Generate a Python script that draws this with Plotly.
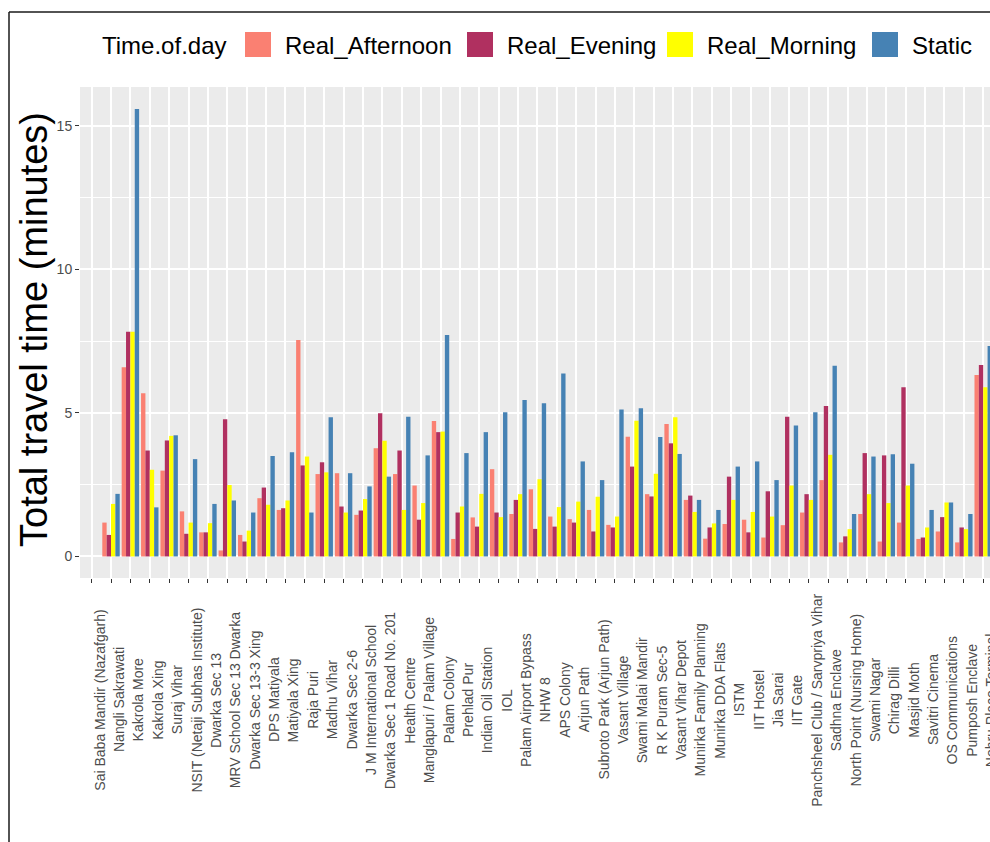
import plotly.graph_objects as go

categories = [
    "Sai Baba Mandir (Nazafgarh)", "Nangli Sakrawati", "Kakrola More", "Kakrola Xing",
    "Suraj Vihar", "NSIT (Netaji Subhas Institute)", "Dwarka Sec 13",
    "MRV School Sec 13 Dwarka", "Dwarka Sec 13-3 Xing", "DPS Matiyala", "Matiyala Xing",
    "Raja Puri", "Madhu Vihar", "Dwarka Sec 2-6", "J M International School",
    "Dwarka Sec 1 Road No. 201", "Health Centre", "Manglapuri / Palam Village",
    "Palam Colony", "Prehlad Pur", "Indian Oil Station", "IOL", "Palam Airport Bypass",
    "NHW 8", "APS Colony", "Arjun Path", "Subroto Park (Arjun Path)", "Vasant Village",
    "Swami Malai Mandir", "R K Puram Sec-5", "Vasant Vihar Depot",
    "Munirka Family Planning", "Munirka DDA Flats", "ISTM", "IIT Hostel", "Jia Sarai",
    "IIT Gate", "Panchsheel Club / Sarvpriya Vihar", "Sadhna Enclave",
    "North Point (Nursing Home)", "Swami Nagar", "Chirag Dilli", "Masjid Moth",
    "Savitri Cinema", "OS Communications", "Pumposh Enclave", "Nehru Place Terminal",
]

real_afternoon = [None, 1.18, 6.59, 5.68, 2.99, 1.57, 0.84, 0.21, 0.75, 2.03, 1.62,
                  7.54, 2.87, 2.90, 1.45, 3.77, 2.87, 2.47, 4.72, 0.61, 1.36, 3.04,
                  1.48, 2.34, 1.39, 1.30, 1.62, 1.10, 4.17, 2.17, 4.61, 1.97, 0.62,
                  1.13, 1.28, 0.66, 1.09, 1.53, 2.66, 0.49, 1.48, 0.52, 1.18, 0.61,
                  0.87, 0.49, 6.32]
real_evening = [None, 0.75, 7.83, 3.69, 4.04, 0.79, 0.84, 4.78, 0.52, 2.40, 1.68,
                3.17, 3.28, 1.74, 1.60, 4.99, 3.69, 1.28, 4.33, 1.53, 1.04, 1.53,
                1.97, 0.96, 1.04, 1.18, 0.87, 1.01, 3.13, 2.09, 3.94, 2.12, 1.01,
                2.78, 0.84, 2.27, 4.87, 2.17, 5.24, 0.70, 3.60, 3.52, 5.89, 0.66,
                1.37, 1.01, 6.67]
real_morning = [None, 1.83, 7.83, 3.02, 4.20, 1.18, 1.16, 2.49, 0.90, 1.80, 1.95,
                3.48, 2.93, 1.53, 2.00, 4.03, 1.62, 1.86, 4.35, 1.74, 2.18, 1.37,
                2.17, 2.69, 1.72, 1.91, 2.08, 1.39, 4.73, 2.88, 4.85, 1.55, 1.15,
                1.97, 1.55, 1.39, 2.47, 1.97, 3.54, 0.95, 2.17, 1.86, 2.47, 1.01,
                1.88, 0.95, 5.89]
static = [None, 2.18, 15.58, 1.71, 4.22, 3.39, 1.83, 1.95, 1.53, 3.50, 3.63,
          1.53, 4.85, 2.90, 2.44, 2.78, 4.87, 3.52, 7.71, 3.60, 4.33, 5.02,
          5.45, 5.34, 6.37, 3.31, 2.66, 5.12, 5.16, 4.16, 3.57, 1.97, 1.62,
          3.13, 3.31, 2.66, 4.56, 5.02, 6.64, 1.48, 3.48, 3.56, 3.23, 1.62,
          1.88, 1.48, 7.33]

series_names = ["Real_Afternoon", "Real_Evening", "Real_Morning", "Static"]
series_values = [real_afternoon, real_evening, real_morning, static]
series_colors = ["#FA8072", "#B03060", "#FFFF00", "#4682B4"]

legend_title = "Time.of.day"
y_title = "Total travel time (minutes)"
y_ticks = [0, 5, 10, 15]

FONT = "Liberation Sans, Arial, sans-serif"
PAGE_W, PAGE_H = 990, 842
L, R, T, B = 80, 990, 87, 578  # plot area in page pixels
PW, PH = R - L, B - T


def px(x):
    return (x - L) / PW


def py(y):
    return (B - y) / PH


fig = go.Figure()
for name, vals, col in zip(series_names, series_values, series_colors):
    fig.add_trace(go.Bar(x=categories, y=vals, name=name, marker_color=col,
                         marker_line_width=0, showlegend=False))

annotations = []
shapes = []

# x category labels (rotated, centred like ggplot)
for c in categories:
    annotations.append(dict(x=c, y=py(700), xref="x", yref="paper", text=c,
                            showarrow=False, textangle=-90, xanchor="center",
                            yanchor="middle", xshift=8,
                            font=dict(family=FONT, size=14, color="#4D4D4D")))

# y title
annotations.append(dict(x=px(34), y=py(330), xref="paper", yref="paper", text=y_title,
                        showarrow=False, textangle=-90, xanchor="center",
                        yanchor="middle", font=dict(family=FONT, size=38, color="#000000")))

# legend (drawn manually to match ggplot key sizes)
annotations.append(dict(x=px(100), y=py(46), xref="paper", yref="paper", text=legend_title,
                        showarrow=False, xanchor="left", yanchor="middle",
                        font=dict(family=FONT, size=24, color="#000000")))
key_left = [245, 467, 667, 872]
for name, col, kx in zip(series_names, series_colors, key_left):
    shapes.append(dict(type="rect", xref="paper", yref="paper",
                       x0=px(kx), x1=px(kx + 26), y0=py(57), y1=py(32),
                       fillcolor=col, line=dict(width=0), layer="above"))
    annotations.append(dict(x=px(kx + 38), y=py(46), xref="paper", yref="paper",
                            text=name, showarrow=False, xanchor="left",
                            yanchor="middle",
                            font=dict(family=FONT, size=24, color="#000000")))

# outer frame (left and top edges)
shapes.append(dict(type="line", xref="paper", yref="paper", x0=px(9), x1=px(9),
                   y0=py(845), y1=py(12), line=dict(color="#1A1A1A", width=1.5)))
shapes.append(dict(type="line", xref="paper", yref="paper", x0=px(9), x1=px(995),
                   y0=py(12), y1=py(12), line=dict(color="#1A1A1A", width=1.5)))

fig.update_layout(
    width=PAGE_W, height=PAGE_H,
    margin=dict(l=L, r=PAGE_W - R, t=T, b=PAGE_H - B, autoexpand=False),
    paper_bgcolor="white", plot_bgcolor="#EBEBEB",
    barmode="group", bargap=0.1, bargroupgap=0,
    font=dict(family=FONT),
    annotations=annotations, shapes=shapes,
    showlegend=False,
)
fig.update_xaxes(type="category", categoryorder="array", categoryarray=categories,
                 range=[-0.6, 46.35], showticklabels=False, showgrid=True,
                 gridcolor="white", gridwidth=1.5, zeroline=False,
                 ticks="outside", ticklen=4, tickcolor="#333333", tickwidth=1,
                 showline=False)
fig.update_yaxes(range=[-0.75, 16.35], tickvals=y_ticks,
                 ticktext=[str(v) for v in y_ticks], showgrid=True,
                 gridcolor="white", gridwidth=1.5, zeroline=False,
                 ticks="outside", ticklen=4, tickcolor="#333333", tickwidth=1,
                 tickfont=dict(family=FONT, size=14, color="#4D4D4D"),
                 minor=dict(tickvals=[2.5, 7.5, 12.5], showgrid=True,
                            gridcolor="white", gridwidth=0.7, ticks=""),
                 showline=False)

fig.write_html(
    "out.html",
    config={"displayModeBar": False},
    post_script="document.documentElement.style.margin='0';"
                "document.body.style.margin='0';"
                "document.body.style.overflow='hidden';",
)
